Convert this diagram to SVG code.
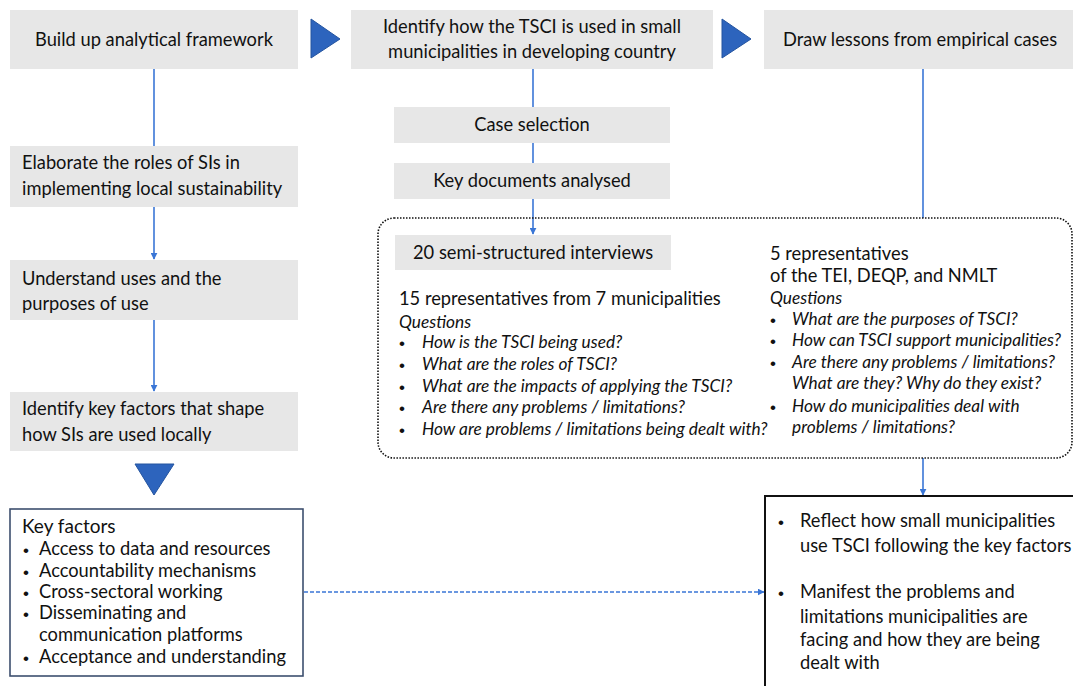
<svg xmlns="http://www.w3.org/2000/svg" width="1073" height="686" viewBox="0 0 1073 686">
<style>
.box{fill:#e7e7e7}
.t{font-family:Lato,"Liberation Sans",sans-serif;font-size:18.3px;fill:#111}
.c{text-anchor:middle}
.i{font-style:italic;font-size:17.3px}
.b{font-family:"Liberation Sans",sans-serif;font-size:17px;fill:#111}
.ln{stroke:#3a76d6;stroke-width:1.6;fill:none}
.tri{fill:#2d64bd;stroke:#24549f;stroke-width:1}
</style>
<defs>
<marker id="ah" viewBox="0 0 10 10" refX="9" refY="5" markerWidth="7" markerHeight="7" markerUnits="userSpaceOnUse" orient="auto">
<path d="M0,0 L10,5 L0,10 z" fill="#3a76d6"/>
</marker>
</defs>
<rect width="1073" height="686" fill="#fff"/>

<g id="connectors">
<line class="ln" x1="154" y1="69" x2="154" y2="146"/>
<line class="ln" x1="154" y1="207" x2="154" y2="259" marker-end="url(#ah)"/>
<line class="ln" x1="154" y1="320" x2="154" y2="391" marker-end="url(#ah)"/>
<line class="ln" x1="533" y1="69" x2="533" y2="107"/>
<line class="ln" x1="533" y1="143" x2="533" y2="163"/>
<line class="ln" x1="533" y1="199" x2="533" y2="234" marker-end="url(#ah)"/>
<line class="ln" x1="923" y1="69" x2="923" y2="218"/>
<line class="ln" x1="923" y1="458" x2="923" y2="495" marker-end="url(#ah)"/>
<line class="ln" x1="304" y1="592" x2="764" y2="592" stroke-dasharray="4,2" marker-end="url(#ah)"/>
<polygon class="tri" points="311,19 340,39 311,58"/>
<polygon class="tri" points="722,19 751,39 722,58"/>
<polygon class="tri" points="135,464 174,464 154,495"/>
</g>

<g id="n1">
<rect class="box" x="10" y="10" width="288" height="59"/>
<text class="t c" x="154" y="46">Build up analytical framework</text>
</g>
<g id="n2">
<rect class="box" x="351" y="10" width="362" height="59"/>
<text class="t c" x="532" y="33">Identify how the TSCI is used in small</text>
<text class="t c" x="532" y="58">municipalities in developing country</text>
</g>
<g id="n3">
<rect class="box" x="764" y="10" width="309" height="59"/>
<text class="t c" x="920" y="46">Draw lessons from empirical cases</text>
</g>
<g id="n4">
<rect class="box" x="10" y="146" width="288" height="61"/>
<text class="t" x="22" y="169">Elaborate the roles of SIs in</text>
<text class="t" x="22" y="195">implementing local sustainability</text>
</g>
<g id="n5">
<rect class="box" x="10" y="260" width="288" height="60"/>
<text class="t" x="22" y="285">Understand uses and the</text>
<text class="t" x="22" y="310">purposes of use</text>
</g>
<g id="n6">
<rect class="box" x="10" y="392" width="288" height="59"/>
<text class="t" x="22" y="415">Identify key factors that shape</text>
<text class="t" x="22" y="441">how SIs are used locally</text>
</g>
<g id="n7">
<rect class="box" x="394" y="107" width="276" height="36"/>
<text class="t c" x="532" y="131">Case selection</text>
</g>
<g id="n8">
<rect class="box" x="394" y="163" width="276" height="36"/>
<text class="t c" x="532" y="187">Key documents analysed</text>
</g>
<g id="n9">
<rect x="378" y="218" width="694" height="240" rx="16" fill="none" stroke="#111" stroke-width="1.6" stroke-dasharray="1.5,1.5"/>
<rect class="box" x="395" y="235" width="276" height="35"/>
<text class="t" x="413" y="259">20 semi-structured interviews</text>
<text class="t" x="399" y="305">15 representatives from 7 municipalities</text>
<text class="t i" x="399" y="328">Questions</text>
<text class="b" x="399" y="349">•</text><text class="t i" x="422" y="348">How is the TSCI being used?</text>
<text class="b" x="399" y="371">•</text><text class="t i" x="422" y="370">What are the roles of TSCI?</text>
<text class="b" x="399" y="393">•</text><text class="t i" x="422" y="392">What are the impacts of applying the TSCI?</text>
<text class="b" x="399" y="414">•</text><text class="t i" x="422" y="413">Are there any problems / limitations?</text>
<text class="b" x="399" y="436">•</text><text class="t i" x="422" y="435">How are problems / limitations being dealt with?</text>
<text class="t" x="770" y="260">5 representatives</text>
<text class="t" x="770" y="282">of the TEI, DEQP, and NMLT</text>
<text class="t i" x="770" y="304">Questions</text>
<text class="b" x="770" y="326">•</text><text class="t i" x="792" y="325">What are the purposes of TSCI?</text>
<text class="b" x="770" y="347">•</text><text class="t i" x="792" y="346">How can TSCI support municipalities?</text>
<text class="b" x="770" y="369">•</text><text class="t i" x="792" y="368">Are there any problems / limitations?</text>
<text class="t i" x="792" y="389">What are they? Why do they exist?</text>
<text class="b" x="770" y="413">•</text><text class="t i" x="792" y="412">How do municipalities deal with</text>
<text class="t i" x="792" y="433">problems / limitations?</text>
</g>
<g id="n10">
<rect x="10" y="509" width="293" height="167" fill="#fff" stroke="#3d4f6e" stroke-width="1.6"/>
<text class="t" x="22" y="533" style="font-size:19px">Key factors</text>
<text class="b" x="23" y="556">•</text><text class="t" x="39" y="555">Access to data and resources</text>
<text class="b" x="23" y="578">•</text><text class="t" x="39" y="577">Accountability mechanisms</text>
<text class="b" x="23" y="599">•</text><text class="t" x="39" y="598">Cross-sectoral working</text>
<text class="b" x="23" y="620">•</text><text class="t" x="39" y="619">Disseminating and</text>
<text class="t" x="39" y="641">communication platforms</text>
<text class="b" x="23" y="664">•</text><text class="t" x="39" y="663">Acceptance and understanding</text>
</g>
<g id="n11">
<rect x="765" y="496" width="320" height="200" fill="#fff" stroke="#111" stroke-width="2"/>
<text class="b" x="778" y="528">•</text><text class="t" x="800" y="527">Reflect how small municipalities</text>
<text class="t" x="800" y="552">use TSCI following the key factors</text>
<text class="b" x="778" y="599">•</text><text class="t" x="800" y="598">Manifest the problems and</text>
<text class="t" x="800" y="623">limitations municipalities are</text>
<text class="t" x="800" y="646">facing and how they are being</text>
<text class="t" x="800" y="669">dealt with</text>
</g>
</svg>
